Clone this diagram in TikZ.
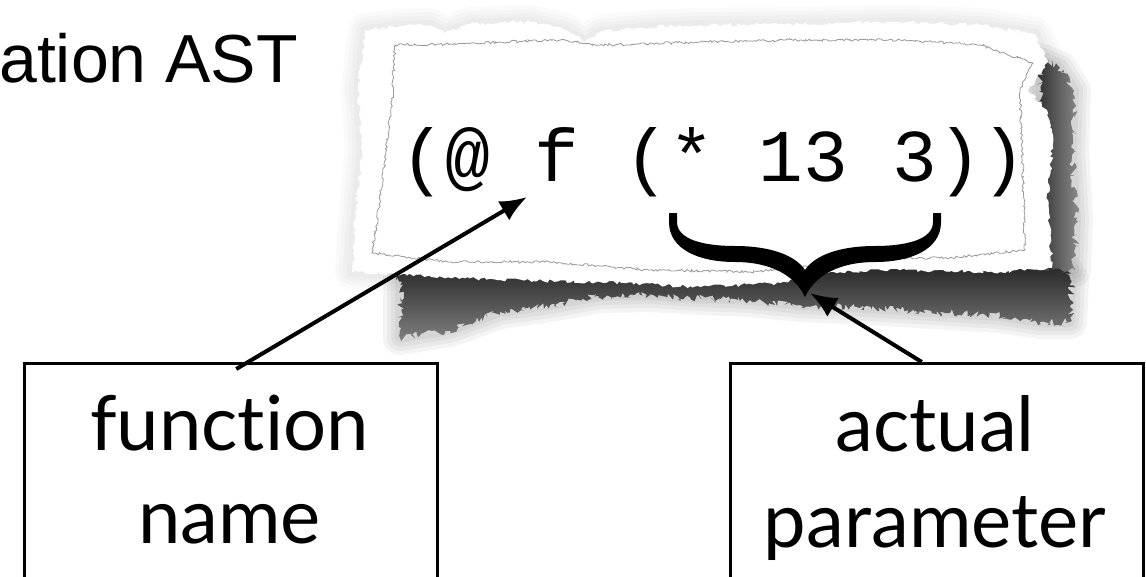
\documentclass[tikz,border=0pt]{standalone}
\usepackage{fontspec}
\newfontfamily\monof{Liberation Mono}
\newfontfamily\latof[Ligatures=NoCommon]{Lato}
\newfontfamily\arialf{Liberation Sans}
\usetikzlibrary{arrows.meta,decorations.pathmorphing}
\tikzset{
  lbl/.style={font=\latof\fontsize{76}{93}\selectfont, inner sep=0pt, anchor=base},
  labelbox/.style={draw=black, line width=2.5pt, minimum width=413pt, minimum height=260pt, anchor=north west, inner sep=0pt},
  arr/.style={line width=4pt, -{Latex[length=27pt,width=22pt]}},
  torn/.style={decorate, decoration={random steps, segment length=3pt, amplitude=1.8pt}},
  fibre/.style={draw=black!40, line width=0.8pt, decorate, decoration={random steps, segment length=2pt, amplitude=1.3pt}},
  streaks/.style={decorate, decoration={random steps, segment length=2pt, amplitude=4pt}}
}
\def\paperpath{(365,30) -- (400,26) -- (430,25) -- (445,33) -- (470,24) -- (530,22) -- (565,30) -- (585,42) -- (600,32) -- (650,27) -- (700,25) -- (800,24) -- (900,22) -- (980,25) -- (1035,34) -- (1048,62) -- (1028,90) -- (1047,110) -- (1053,135) -- (1048,200) -- (1052,268) -- (1000,272) -- (900,270) -- (830,272) -- (780,283) -- (700,287) -- (600,282) -- (500,280) -- (400,275) -- (352,272) -- (355,220) -- (362,150) -- (358,90) -- cycle}
\def\innerpath{(395,45) -- (450,44) -- (500,42) -- (560,40) -- (600,45) -- (700,42) -- (800,40) -- (900,40) -- (980,45) -- (1033,63) -- (1020,90) -- (1022,150) -- (1025,250) -- (950,258) -- (850,258) -- (800,268) -- (750,272) -- (650,270) -- (550,262) -- (450,262) -- (372,253) -- (380,200) -- (392,100) -- cycle}
\def\shadowpath{(400,262) -- (1060,262) -- (1072,280) -- (1070,322) -- (1040,322) -- (1000,316) -- (950,313) -- (900,310) -- (850,307) -- (800,305) -- (750,300) -- (700,298) -- (650,295) -- (600,296) -- (550,305) -- (500,312) -- (450,330) -- (400,338) -- cycle}
\def\sidepath{(1040,60) -- (1060,68) -- (1074,90) -- (1072,150) -- (1076,220) -- (1074,270) -- (1045,270) -- cycle}
\begin{document}
\begin{tikzpicture}[x=1pt,y=-1pt]
\useasboundingbox (0,0) rectangle (1146,576);
\clip (0,0) rectangle (1146,576);
\pgfmathsetseed{7}

% title fragment
\node[font=\arialf\fontsize{68}{80}\selectfont, inner sep=0pt, anchor=base east] (title) at (298,82) {ation AST};

% soft blur round the paper and shadow
\foreach \w in {34,26,18,10} {
  \draw[line width=\w pt, black, opacity=0.018, line join=round] \paperpath;
  \draw[line width=\w pt, black, opacity=0.045, line join=round] \shadowpath;
  \draw[line width=\w pt, black, opacity=0.045, line join=round] \sidepath;
}
% dark shadow under and right of the paper
\shade[top color=black!88, bottom color=black!50, streaks] \shadowpath;
\shade[left color=black!82, right color=black!45, streaks] \sidepath;

% torn paper
\fill[white, torn] \paperpath;
\draw[fibre] \innerpath;

% code text
\node[font=\monof\fontsize{74.5}{80}\selectfont, inner sep=0pt, anchor=base west] (code) at (400.6,181) {(@ f (* 13 3))};

% brace
\fill[black] (669,213) -- (669,222) .. controls (669,250) and (700,262) .. (735,262)
  .. controls (770,262) and (795,275) .. (805,297)
  .. controls (815,275) and (840,262) .. (875,262)
  .. controls (910,262) and (941,250) .. (941,222) -- (941,213) -- (933,213) -- (933,222)
  .. controls (933,240) and (905,246) .. (875,246)
  .. controls (840,246) and (815,255) .. (805,270)
  .. controls (795,255) and (770,246) .. (735,246)
  .. controls (705,246) and (677,240) .. (677,222) -- (677,213) -- cycle;

\coordinate (ftip) at (527,197);
\coordinate (ptip) at (810,293);

% label boxes
\node[labelbox] (fnbox) at (23,362) {};
\node[labelbox] (apbox) at (729,362) {};
\node[lbl] (fn1) at (229.5,450) {function};
\node[lbl] (fn2) at (229.5,543) {name};
\node[lbl] (ap1) at (935,451) {actual};
\node[lbl] (ap2) at (935,547) {parameter};

% arrows
\draw[arr] ([xshift=5.5pt,yshift=-7pt]fnbox.north) -- (ftip);
\draw[arr] ([xshift=-15pt]apbox.north) -- (ptip);
\end{tikzpicture}
\end{document}
